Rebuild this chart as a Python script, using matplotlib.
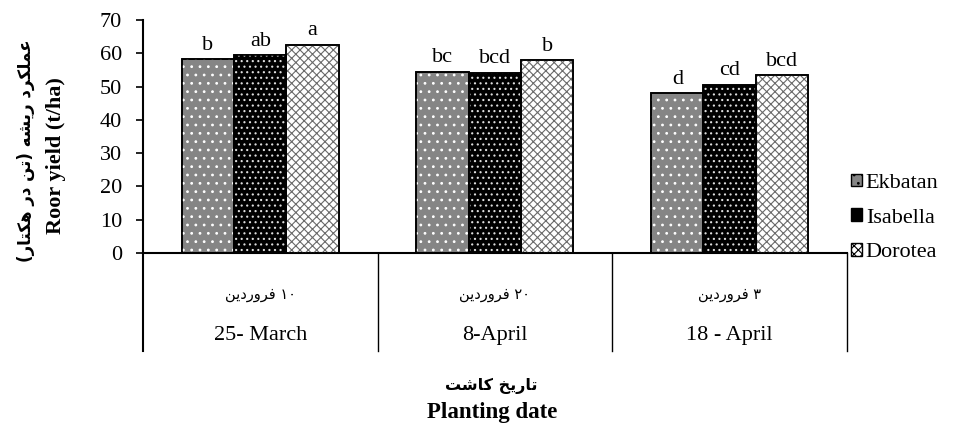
import numpy as np
import matplotlib
matplotlib.use("Agg")
import matplotlib.pyplot as plt
from matplotlib.patches import Patch

# data
dates_en = ['25- March', '8-April', '18 - April']
# Persian labels written in visual order with presentation forms
word_farvardin = '\uFEE6\uFEF3\uFEA9\uFEAD\uFEED\uFEAE\uFED3'
dates_fa = [word_farvardin + ' \u06F1\u06F0',
            word_farvardin + ' \u06F2\u06F0',
            word_farvardin + ' \u06F3']
cultivars = ['Ekbatan', 'Isabella', 'Dorotea']
ekbatan = [58.3, 54.5, 48.1]
isabella = [59.4, 54.2, 50.6]
dorotea = [62.6, 58.0, 53.4]
letters = [['b', 'ab', 'a'], ['bc', 'bcd', 'b'], ['d', 'cd', 'bcd']]

ylabel_fa = ('(' + '\uFEAD\uFE8E\uFE98\uFB91\uFEEB' + ' ' + '\uFEAD\uFEA9' + ' ' + '\uFEE6\uFE97' + ')'
             + ' ' + '\uFEEA\uFEB8\uFEF3\uFEAD' + ' ' + '\uFEA9\uFEAE\uFB91\uFEE0\uFEE4\uFECB')
xlabel_fa = '\uFE96\uFEB7\uFE8E\uFB90' + ' ' + '\uFEA6\uFEF3\uFEAD\uFE8E\uFE97'

fonts = ['Liberation Serif', 'DejaVu Sans']
plt.rcParams['font.family'] = fonts
plt.rcParams['hatch.linewidth'] = 0.8

fig = plt.figure(figsize=(9.63, 4.37), dpi=100)
ax = fig.add_axes([0.1485, 0.421, 0.731, 0.533])

x = np.arange(len(dates_en))
w = 0.223
series = [ekbatan, isabella, dorotea]
faces = ['#858585', '#000000', '#ffffff']
hatches = ['..', '...', 'xxxx']
hcolors = ['white', '#dddddd', '#6a6a6a']

for i, vals in enumerate(series):
    pos = x + (i - 1) * w
    ax.bar(pos, vals, w, color=faces[i], edgecolor='black', linewidth=1.2, zorder=2)
    ax.bar(pos, vals, w, color='none', edgecolor=hcolors[i], hatch=hatches[i], linewidth=0, zorder=3)
    ax.bar(pos, vals, w, color='none', edgecolor='black', linewidth=1.2, zorder=4)
    for j, v in enumerate(vals):
        ax.text(pos[j], v + 2.8, letters[j][i], ha='center', va='baseline', fontsize=16)

ax.set_xlim(-0.5, 2.5)
ax.set_ylim(0, 70)
ax.set_yticks(range(0, 71, 10))
ax.tick_params(axis='y', labelsize=16, direction='out', length=5, width=1.2, pad=10)
ax.set_xticks([])
for s in ['top', 'right', 'bottom', 'left']:
    ax.spines[s].set_visible(False)

# axis lines and category table
ax.plot([-0.5, -0.5], [70, -29.5], color='black', lw=1.5, clip_on=False)
ax.plot([-0.5, 2.5], [0, 0], color='black', lw=1.5, clip_on=False)
for d in [0.5, 1.5, 2.5]:
    ax.plot([d, d], [0, -29.5], color='black', lw=1, clip_on=False)
for j in range(len(dates_en)):
    ax.text(x[j], -12.5, dates_fa[j], ha='center', va='center', fontsize=10.5, family=['DejaVu Sans'])
    ax.text(x[j], -24.8, dates_en[j], ha='center', va='center', fontsize=16)

# axis titles
fig.text(0.027, 0.655, ylabel_fa, rotation=90, ha='center', va='center', fontsize=12,
         fontweight='bold', family=['DejaVu Sans'])
fig.text(0.058, 0.645, 'Roor yield (t/ha)', rotation=90, ha='center', va='center', fontsize=16,
         fontweight='bold')
fig.text(0.51, 0.118, xlabel_fa, ha='center', va='center', fontsize=11.5, fontweight='bold',
         family=['DejaVu Sans'])
fig.text(0.511, 0.055, 'Planting date', ha='center', va='center', fontsize=16.5, fontweight='bold')

handles = [Patch(facecolor=faces[i], edgecolor='black', hatch=hatches[i]) for i in range(3)]
fig.legend(handles, cultivars, loc='center left', bbox_to_anchor=(0.884, 0.501), frameon=False,
           fontsize=16, handlelength=0.5, handleheight=0.5, handletextpad=0.15, labelspacing=0.7,
           borderpad=0, borderaxespad=0)

fig.savefig('out.png', dpi=100)
